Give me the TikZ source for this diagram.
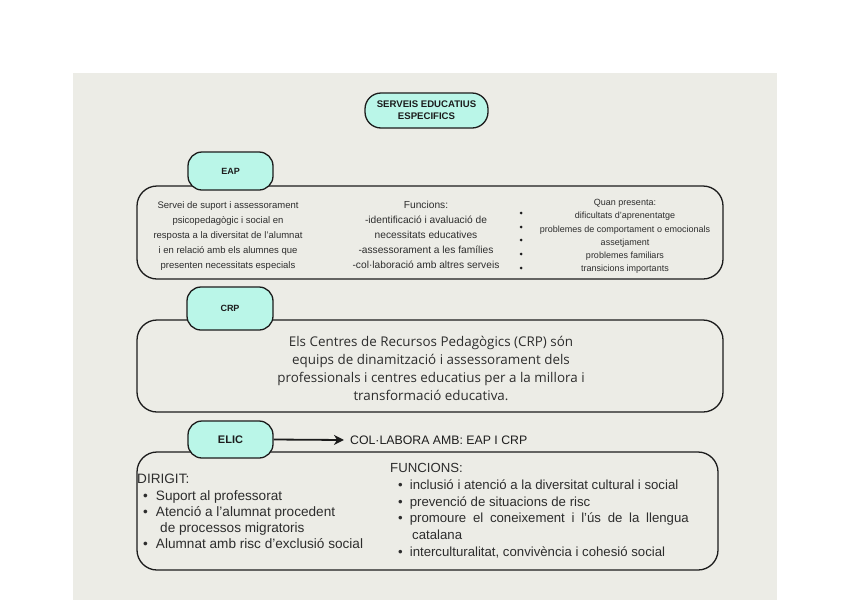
\documentclass[tikz,border=0pt]{standalone}
\usepackage{fontspec}
\setmainfont{Liberation Sans}
\newfontfamily\opensans{Open Sans}
\usetikzlibrary{arrows.meta}
\definecolor{mint}{RGB}{186,246,232}
\definecolor{panel}{RGB}{236,236,230}
\definecolor{ink}{RGB}{28,28,28}
\definecolor{txt}{RGB}{45,45,45}
\begin{document}
\begin{tikzpicture}[x=1pt,y=-1pt,
  bigbox/.style={draw=ink, line width=1.3pt, rounded corners=20pt, inner sep=0pt},
  tabbox/.style={draw=ink, line width=1.3pt, fill=mint, rounded corners=14pt, inner sep=0pt, text=ink},
  pill/.style={draw=ink, line width=1.3pt, fill=mint, rounded corners=16pt, inner sep=0pt, align=center,
    font=\bfseries\fontsize{9.6}{12}\selectfont, text=ink},
  eaptxt/.style={align=center, text=txt, inner sep=0pt},
  listtxt/.style={align=left, text=txt, inner sep=0pt, anchor=north west}]
\useasboundingbox (0,0) rectangle (848,600);
\fill[white] (0,0) rectangle (848,600);
\fill[panel] (73,73) rectangle (777,600);

% title
\node[pill, minimum width=123pt, minimum height=35pt] (title) at (426.5,110.5) {SERVEIS EDUCATIUS\\ESPECIFICS};

% EAP
\node[bigbox, minimum width=586pt, minimum height=93pt] (eapbox) at (430,232.5) {};
\node[tabbox, minimum width=85pt, minimum height=38pt, font=\bfseries\fontsize{9}{10}\selectfont] (eap) at (230.5,171) {EAP};
\node[eaptxt, font=\fontsize{9.5}{15}\selectfont] (eapdesc) at (228,236) {Servei de suport i assessorament\\psicopedagògic i social en\\resposta a la diversitat de l'alumnat\\i en relació amb els alumnes que\\presenten necessitats especials};
\node[eaptxt, font=\fontsize{10.2}{15}\selectfont] (eapfunc) at (426,235) {Funcions:\\-identificació i avaluació de\\necessitats educatives\\-assessorament a les famílies\\-col·laboració amb altres serveis};
\node[eaptxt, font=\fontsize{9}{13.3}\selectfont] (eapquan) at (625,236.5) {Quan presenta:\\dificultats d'aprenentatge\\problemes de comportament o emocionals\\assetjament\\problemes familiars\\transicions importants};
\foreach \yy in {213,227,240,254,268} \fill[ink] (521,\yy) circle (1.5pt);

% CRP
\node[bigbox, minimum width=586pt, minimum height=92pt] (crpbox) at (430,366) {};
\node[tabbox, minimum width=86pt, minimum height=43pt, font=\bfseries\fontsize{9}{10}\selectfont] (crp) at (230,308.5) {CRP};
\node[eaptxt, font=\opensans\fontsize{13.4}{18}\selectfont] (crpdesc) at (431,368) {Els Centres de Recursos Pedagògics (CRP) són\\equips de dinamització i assessorament dels\\professionals i centres educatius per a la millora i\\transformació educativa.};

% ELIC
\node[bigbox, minimum width=581pt, minimum height=118pt] (elicbox) at (427.5,511) {};
\node[tabbox, minimum width=85pt, minimum height=37pt, font=\bfseries\fontsize{11}{12}\selectfont] (elic) at (230.5,439.5) {ELIC};
\node[anchor=west, inner sep=0pt, text=ink, font=\fontsize{12.3}{14}\selectfont] (collab) at (350,440) {COL·LABORA AMB: EAP I CRP};
\draw[ink, line width=1.8pt, -{Stealth[length=10pt,width=10pt,inset=3pt]}] (elic.east) -- ([xshift=-6pt]collab.west);

\node[listtxt, font=\fontsize{13.6}{16.3}\selectfont] (dirigit) at (137,474) {DIRIGIT:\\
\hspace*{6pt}\textbullet\hspace{8pt}Suport al professorat\\
\hspace*{6pt}\textbullet\hspace{8pt}Atenció a l’alumnat procedent\\
\hspace*{23pt}de processos migratoris\\
\hspace*{6pt}\textbullet\hspace{8pt}Alumnat amb risc d’exclusió social};

\node[listtxt, font=\fontsize{13.2}{16.8}\selectfont] (funcions) at (390,463) {FUNCIONS:\\
\hspace*{8pt}\textbullet\hspace{7pt}inclusió i atenció a la diversitat cultural i social\\
\hspace*{8pt}\textbullet\hspace{7pt}prevenció de situacions de risc\\
\hspace*{8pt}\textbullet\hspace{7pt}\makebox[279pt][s]{promoure el coneixement i l’ús de la llengua}\\
\hspace*{22pt}catalana\\
\hspace*{8pt}\textbullet\hspace{7pt}interculturalitat, convivència i cohesió social};
\end{tikzpicture}
\end{document}
